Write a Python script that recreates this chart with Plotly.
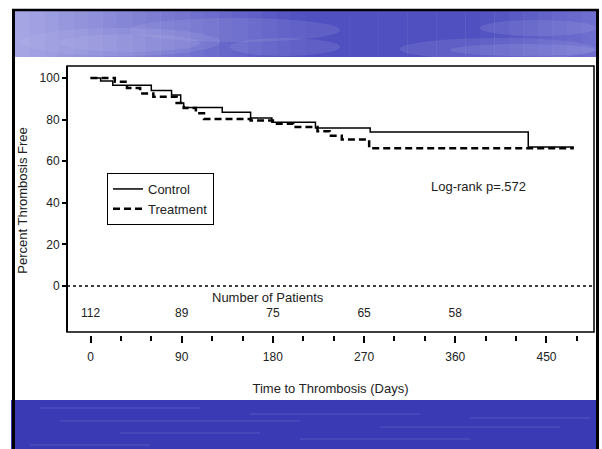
import plotly.graph_objects as go

# ---- data ----
control_days = [0, 10, 22, 60, 80, 89, 92, 130, 158, 179, 222, 276, 432, 477]
control_pct = [100, 98.5, 96.5, 94, 91.8, 88, 85.8, 83.5, 80.8, 78.7, 76, 74, 66.8, 66.8]

treat_days = [0, 24, 36, 49, 62, 85, 92, 104, 112, 158, 180, 200, 224, 236, 248, 275, 477]
treat_pct = [100, 98.2, 95.2, 92.6, 91, 88, 85.6, 83, 80.3, 79.6, 78, 76.4, 74.4, 72.2, 70.4, 66.2, 66.2]

risk_days = [0, 90, 180, 270, 360]
risk_counts = [112, 89, 75, 65, 58]

x_ticks = [0, 90, 180, 270, 360, 450]
y_ticks = [0, 20, 40, 60, 80, 100]

# ---- geometry helpers (pixel -> paper) ----
L, R, T, B = 67, 594, 66, 335
W, H = 602, 449


def xp(px):
    return (px - L) / (R - L)


def yp(py):
    return (B - py) / (B - T)


FONT = "Liberation Sans, Arial, sans-serif"
TXT = "#222222"

fig = go.Figure()
fig.add_trace(go.Scatter(x=control_days, y=control_pct, mode="lines", line_shape="hv",
                         line=dict(color="black", width=1.5), name="Control"))
fig.add_trace(go.Scatter(x=treat_days, y=treat_pct, mode="lines", line_shape="hv",
                         line=dict(color="black", width=2.5, dash="7px,4px"), name="Treatment"))
fig.add_trace(go.Scatter(x=risk_days, y=[-13.3] * len(risk_days), mode="text",
                         text=[str(v) for v in risk_counts], textposition="middle center",
                         textfont=dict(family=FONT, size=12, color=TXT), showlegend=False,
                         hoverinfo="skip"))

shapes = []
# top blue band as gradient strips
n = 40
x0b, x1b = 15, 596
for i in range(n):
    t = i / (n - 1)
    if t < 0.5:
        u = t / 0.5
        c = (int(165 - 85 * u), int(165 - 85 * u), int(228 - 35 * u))
    elif t < 0.8:
        c = (80, 80, 192)
    else:
        u = (t - 0.8) / 0.2
        c = (int(80 + 30 * u), int(80 + 30 * u), int(192 + 15 * u))
    a = x0b + (x1b - x0b) * i / n
    b = x0b + (x1b - x0b) * (i + 1) / n + 0.5
    shapes.append(dict(type="rect", xref="paper", yref="paper", x0=xp(a), x1=xp(b),
                       y0=yp(57), y1=yp(11), line=dict(width=0),
                       fillcolor="rgb(%d,%d,%d)" % c, layer="below"))
# soft cloud streaks in top band
for (xa, xb, ya, yb) in [(20, 220, 28, 56), (60, 200, 34, 52), (130, 340, 18, 42), (230, 340, 38, 56),
                         (400, 596, 38, 60), (450, 596, 44, 56), (480, 596, 20, 36)]:
    shapes.append(dict(type="circle", xref="paper", yref="paper", x0=xp(xa), x1=xp(xb),
                       y0=yp(yb), y1=yp(ya), line=dict(width=0),
                       fillcolor="rgba(200,200,240,0.13)", layer="below"))
shapes.append(dict(type="rect", xref="paper", yref="paper", x0=xp(15), x1=xp(596),
                   y0=yp(80), y1=yp(57), line=dict(width=0), fillcolor="white", layer="below"))
shapes.append(dict(type="rect", xref="paper", yref="paper", x0=xp(15), x1=xp(596),
                   y0=yp(11), y1=yp(0), line=dict(width=0), fillcolor="white", layer="below"))
# bottom blue band
shapes.append(dict(type="rect", xref="paper", yref="paper", x0=xp(11), x1=xp(599),
                   y0=yp(449), y1=yp(400), line=dict(width=0), fillcolor="#3a3ab4", layer="below"))
for yy, xa, xb in [(408, 40, 200), (414, 250, 420), (421, 60, 300), (427, 380, 560),
                   (433, 120, 260), (439, 300, 470), (445, 30, 150), (418, 470, 590)]:
    shapes.append(dict(type="line", xref="paper", yref="paper", x0=xp(xa), x1=xp(xb),
                       y0=yp(yy), y1=yp(yy), line=dict(color="rgba(110,110,205,0.25)", width=2),
                       layer="below"))
# slide border
shapes.append(dict(type="line", xref="paper", yref="paper", x0=xp(13.5), x1=xp(13.5),
                   y0=yp(9), y1=yp(449), line=dict(color="black", width=3)))
shapes.append(dict(type="line", xref="paper", yref="paper", x0=xp(597.5), x1=xp(597.5),
                   y0=yp(9), y1=yp(449), line=dict(color="black", width=3)))
shapes.append(dict(type="line", xref="paper", yref="paper", x0=xp(12), x1=xp(599),
                   y0=yp(10), y1=yp(10), line=dict(color="black", width=2.5)))
# plot frame
shapes.append(dict(type="rect", xref="paper", yref="paper", x0=xp(67), x1=xp(594),
                   y0=yp(332), y1=yp(66), line=dict(color="black", width=1.5)))
shapes.append(dict(type="line", xref="paper", yref="paper", x0=xp(67), x1=xp(67),
                   y0=yp(332), y1=yp(66), line=dict(color="black", width=2)))
# zero reference line
shapes.append(dict(type="line", xref="paper", yref="y", x0=0, x1=1, y0=0, y1=0,
                   line=dict(color="black", width=1.5, dash="3px,3px")))

annotations = [
    dict(x=175, y=-5.6, xref="x", yref="y", text="Number of Patients", showarrow=False,
         font=dict(family=FONT, size=13, color=TXT)),
    dict(x=383, y=47.6, xref="x", yref="y", text="Log-rank p=.572", showarrow=False,
         font=dict(family=FONT, size=13, color=TXT)),
]

fig.update_layout(
    width=W, height=H,
    margin=dict(l=L, r=W - R, t=T, b=H - B, pad=0),
    paper_bgcolor="white", plot_bgcolor="rgba(0,0,0,0)",
    font=dict(family=FONT, size=12, color=TXT),
    shapes=shapes, annotations=annotations,
    showlegend=True,
    legend=dict(x=xp(107), y=yp(173), xanchor="left", yanchor="top",
                bordercolor="black", borderwidth=1, bgcolor="white",
                font=dict(family=FONT, size=13, color=TXT),
                tracegroupgap=0, itemwidth=30),
    xaxis=dict(range=[(67 - 90.5) / 1.0133, (594 - 90.5) / 1.0133], tickvals=x_ticks,
               ticks="outside", ticklen=7, tickwidth=1.5, tickcolor="black",
               minor=dict(dtick=30, tick0=0, ticks="outside", ticklen=5, tickwidth=1.5,
                          tickcolor="black", showgrid=False),
               showgrid=False, zeroline=False, showline=False,
               ticklabelstandoff=4,
               title=dict(text="Time to Thrombosis (Days)", standoff=20,
                          font=dict(family=FONT, size=13, color=TXT)),
               tickfont=dict(family=FONT, size=12, color=TXT)),
    yaxis=dict(range=[(286 - 335) / 2.08, 100 + (78 - 66) / 2.08],
               tickvals=y_ticks, ticks="outside", ticklen=4, tickwidth=1.5, tickcolor="black",
               showgrid=False, zeroline=False, showline=False,
               title=dict(text="Percent Thrombosis Free", standoff=9,
                          font=dict(family=FONT, size=13, color=TXT)),
               tickfont=dict(family=FONT, size=12, color=TXT)),
)

fig.write_html("out.html", config={"displayModeBar": False},
               post_script="document.body.style.margin='0px';")
